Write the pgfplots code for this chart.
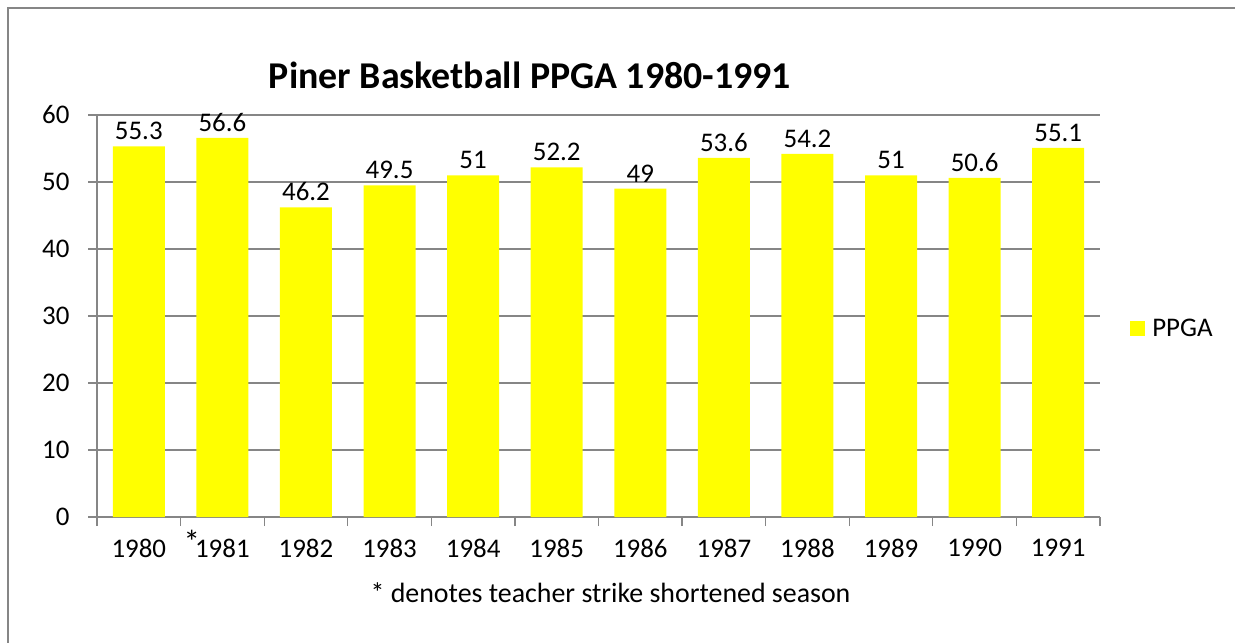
\documentclass[border=0pt]{standalone}
\usepackage{pgfplots}
\pgfplotsset{compat=1.18}
\usepackage{fontspec}
\setmainfont{Carlito}
\definecolor{bary}{HTML}{FFFF00}
\definecolor{gridg}{HTML}{868686}
\begin{document}
\begin{tikzpicture}[x=1bp,y=1bp]
\path[use as bounding box] (0,0) rectangle (1235,-643);
\draw[gridg, line width=1.3bp] (8,-650) -- (8,-8) -- (1240,-8);
\node[font=\fontsize{38}{44}\selectfont\bfseries] at (530,-75) {Piner Basketball PPGA 1980-1991};
\begin{axis}[
  at={(97bp,-517bp)}, anchor=south west,
  scale only axis, width=1003bp, height=402bp,
  ymin=0, ymax=60, ytick={0,10,...,60},
  xmin=-0.5, xmax=11.5,
  xtick={0,...,11},
  xticklabels={1980,{\llap{\smash{\raisebox{4bp}{\fontsize{33}{36}\selectfont *}}\kern-5bp}1981},1982,1983,1984,1985,1986,1987,1988,1989,1990,1991},
  minor xtick={-0.5,0.5,...,11.5},
  minor ytick={0,10,...,60},
  major tick length=0pt, minor tick length=9bp,
  tick align=outside,
  axis x line*=bottom, axis y line*=left,
  axis line style={draw=gridg, line width=1.3bp},
  tick style={draw=gridg, line width=1.3bp},
  ymajorgrids, grid style={draw=gridg, line width=1.3bp},
  ybar, bar width=52bp,
  /pgf/number format/assume math mode=true,
  ticklabel style={font=\fontsize{27}{32}\selectfont},
  yticklabel style={xshift=-24bp},
  xticklabel style={yshift=-19bp},
  nodes near coords,
  nodes near coords style={font=\fontsize{27}{32}\selectfont, black, yshift=3bp},
  xlabel={* denotes teacher strike shortened season},
  xlabel style={font=\fontsize{28}{33}\selectfont, at={(axis description cs:0.5,0)}, anchor=center, yshift=-76bp, xshift=12bp},
  legend style={at={(1.03,0.47)}, anchor=west, draw=none, fill=none, inner sep=0pt, font=\fontsize{27}{32}\selectfont},
  legend image code/.code={\fill[bary] (0bp,-7.5bp) rectangle (15bp,7.5bp); \path (20bp,0bp);},
  clip=false,
]
\addplot[fill=bary, draw=none] coordinates {(0,55.3) (1,56.6) (2,46.2) (3,49.5) (4,51) (5,52.2) (6,49) (7,53.6) (8,54.2) (9,51) (10,50.6) (11,55.1)};
\legend{PPGA}
\end{axis}
\end{tikzpicture}
\end{document}
